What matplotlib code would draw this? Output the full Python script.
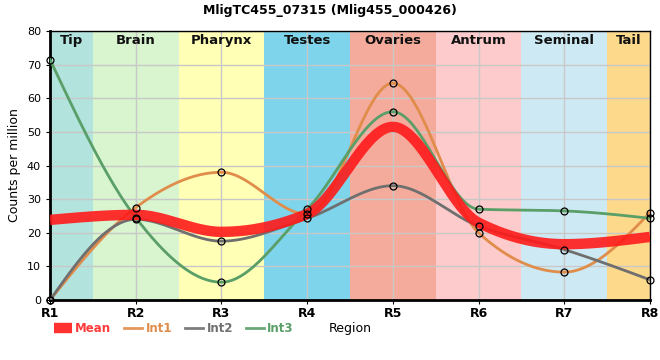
import numpy as np
import matplotlib
matplotlib.use('Agg')
import matplotlib.pyplot as plt

regions = ['R1', 'R2', 'R3', 'R4', 'R5', 'R6', 'R7', 'R8']
int1 = [0, 27.5, 38, 25.5, 64.5, 20, 8.3, 26]
int2 = [0, 24, 17.5, 24.3, 34, 22, 15, 6]
int3 = [71.5, 24.5, 5.3, 27, 56, 27, 26.5, 24.3]
mean = list(np.mean([int1, int2, int3], axis=0))

band_names = ['Tip', 'Brain', 'Pharynx', 'Testes', 'Ovaries', 'Antrum', 'Seminal', 'Tail']
band_colors = ['#b3e3dd', '#d8f5cf', '#ffffb5', '#7ed4ea', '#f5ab9c', '#fdcbcb', '#cdeaf4', '#fdd98b']


def monotone(x, y, xs):
    # monotone cubic in the style of d3's curveMonotoneX
    x = np.asarray(x, float)
    y = np.asarray(y, float)
    h = np.diff(x)
    d = np.diff(y) / h
    n = len(x)
    m = np.zeros(n)
    for k in range(1, n - 1):
        s0, s1 = d[k - 1], d[k]
        p = (s0 * h[k] + s1 * h[k - 1]) / (h[k - 1] + h[k])
        m[k] = (np.sign(s0) + np.sign(s1)) * min(abs(s0), abs(s1), 0.5 * abs(p))
    m[0] = (3 * d[0] - m[1]) / 2
    m[-1] = (3 * d[-1] - m[-2]) / 2
    out = np.empty_like(xs)
    for i, xv in enumerate(xs):
        k = min(np.searchsorted(x, xv, side='right') - 1, n - 2)
        t = (xv - x[k]) / h[k]
        h00 = 2 * t**3 - 3 * t**2 + 1
        h10 = t**3 - 2 * t**2 + t
        h01 = -2 * t**3 + 3 * t**2
        h11 = t**3 - t**2
        out[i] = h00 * y[k] + h10 * h[k] * m[k] + h01 * y[k + 1] + h11 * h[k] * m[k + 1]
    return out


x = np.arange(len(regions))
xs = np.linspace(0, len(regions) - 1, 500)

fig = plt.figure(figsize=(6.6, 3.6), dpi=100)
ax = fig.add_axes([0.0758, 0.1667, 0.909, 0.747])

# background bands for the body regions
edges = [0, 0.5, 1.5, 2.5, 3.5, 4.5, 5.5, 6.5, 7]
for i, name in enumerate(band_names):
    ax.axvspan(edges[i], edges[i + 1], color=band_colors[i], lw=0, zorder=0)
    ax.text((edges[i] + edges[i + 1]) / 2, 77.2, name, ha='center', va='center',
            fontsize=9.5, fontweight='bold', color='#111111', zorder=5)

ax.grid(True, color='#c8c8c8', lw=1, zorder=1)
ax.set_axisbelow(True)

series = [('Int1', int1, '#e08c4a'), ('Int2', int2, '#6f6f6f'), ('Int3', int3, '#5a9e68')]
for name, vals, col in series:
    ax.plot(xs, monotone(x, vals, xs), color=col, lw=2, zorder=3, label=name)
ax.plot(xs, monotone(x, mean, xs), color='#ff1a1a', lw=7.5, alpha=0.9, zorder=4,
        solid_capstyle='butt', label='Mean')
for name, vals, col in series:
    ax.plot(x, vals, 'o', ms=5, mfc='none', mec='black', mew=0.9, zorder=6, clip_on=False)

ax.set_xlim(0, 7)
ax.set_ylim(0, 80)
ax.set_xticks(x)
ax.set_xticklabels(regions, fontsize=9, fontweight='bold')
ax.set_yticks(range(0, 81, 10))
ax.tick_params(axis='y', labelsize=8, length=3)
ax.tick_params(axis='x', length=3, pad=2)
ax.set_ylabel('Counts per million', fontsize=9)
for s in ['left', 'bottom']:
    ax.spines[s].set_linewidth(2)
for s in ['top', 'right']:
    ax.spines[s].set_linewidth(1)

fig.text(0.5, 0.972, 'MligTC455_07315 (Mlig455_000426)', ha='center', va='center',
         fontsize=9, fontweight='bold')
fig.text(0.53, 0.088, 'Region', ha='center', va='center', fontsize=9)

handles, labels = ax.get_legend_handles_labels()
order = [3, 0, 1, 2]
leg = fig.legend([handles[i] for i in order], [labels[i] for i in order],
                 loc='center left', bbox_to_anchor=(0.082, 0.088), ncol=4, frameon=False,
                 fontsize=8.5, handlelength=1.5, handletextpad=0.3, columnspacing=1.1,
                 borderaxespad=0, borderpad=0)
for t, c in zip(leg.get_texts(), ['#ff3b3b', '#e08c4a', '#6f6f6f', '#5a9e68']):
    t.set_color(c)
    t.set_fontweight('bold')
for h in leg.legend_handles:
    h.set_alpha(0.9)

fig.savefig('out.png', dpi=100)
